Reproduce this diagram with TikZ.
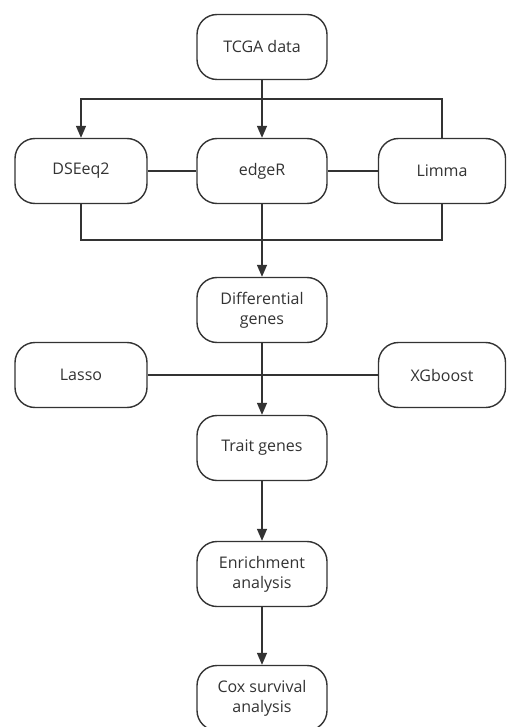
\documentclass[tikz,border=0pt]{standalone}
\usepackage{fontspec}
\setmainfont{Open Sans}
\usetikzlibrary{arrows.meta,positioning}
\definecolor{Linea}{HTML}{333333}
\definecolor{Texto}{HTML}{333333}

\begin{document}
\begin{tikzpicture}[
  x=1pt,y=-1pt,
  font=\fontsize{16}{20}\selectfont,
  caja/.style={draw=Linea,line width=1.4pt,rounded corners=20pt,fill=white,
    minimum width=130pt,minimum height=65pt,align=center,text=Texto,inner sep=2pt},
  arr/.style={-{Triangle[length=12pt,width=10pt]},line width=1.4pt,Linea},
  lin/.style={line width=1.4pt,Linea}
]
  \useasboundingbox[fill=white] (0,0) rectangle (506,727);
  % Datos y los tres metodos de expresion diferencial
  \node[caja] (tcga) at (262,47) {TCGA data};
  \node[caja,minimum width=132pt] (deseq) at (81,171) {DSEeq2};
  \node[caja] (edger) at (262,171) {edgeR};
  \node[caja,minimum width=127pt] (limma) at (442,171) {Limma};
  \coordinate (split) at (262,99);
  \coordinate (merge) at (262,240);
  \draw[arr] (limma.north) |- (split) -| (deseq.north);
  \draw[arr] (tcga) -- (edger);
  \draw[lin] (deseq) -- (edger);
  \draw[lin] (edger) -- (limma);
  \draw[lin] (deseq.south) |- (merge) -| (limma.south);

  % Seleccion de genes
  \node[caja] (diff) at (262,310) {Differential\\genes};
  \node[caja,minimum width=132pt] (lasso) at (81,375) {Lasso};
  \node[caja,minimum width=127pt] (xgb) at (442,375) {XGboost};
  \node[caja] (trait) at (262,448) {Trait genes};
  \draw[arr] (edger) -- (diff);
  \draw[lin] (lasso) -- (xgb);
  \draw[arr] (diff) -- (trait);

  % Analisis posteriores
  \node[caja] (enrich) at (262,574) {Enrichment\\analysis};
  \node[caja] (cox) at (262,698) {Cox survival\\analysis};
  \draw[arr] (trait) -- (enrich);
  \draw[arr] (enrich) -- (cox);
\end{tikzpicture}
\end{document}
